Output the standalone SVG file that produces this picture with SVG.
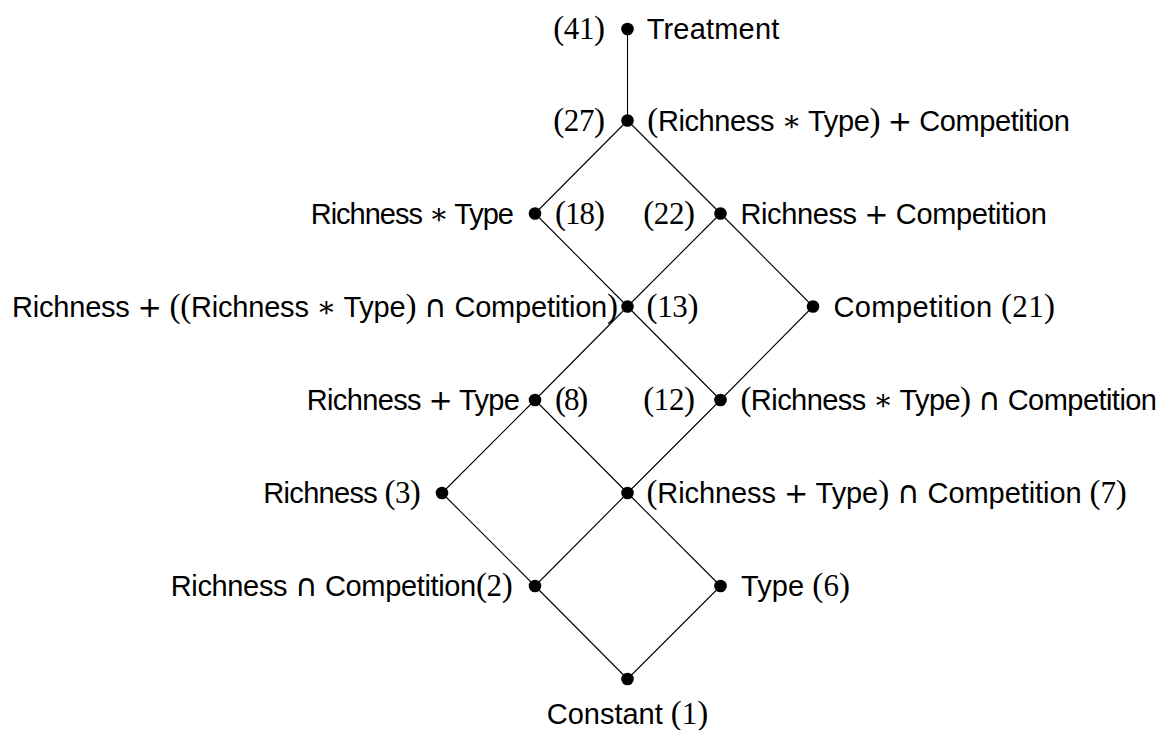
<svg xmlns="http://www.w3.org/2000/svg" width="1165" height="730" viewBox="0 0 1165 730">
<style>
text{font-family:"Liberation Sans",Arial,sans-serif;font-size:29px;fill:#000}
.m{font-family:"Liberation Serif","DejaVu Serif",serif;font-size:31px}
.p{font-family:"Liberation Serif","DejaVu Serif",serif;font-size:33px}
.o{font-family:"DejaVu Sans","Liberation Serif",serif;font-size:29px}
.a{font-family:"DejaVu Serif",serif;font-size:29px}
.c{font-family:"DejaVu Sans","Liberation Serif",serif;font-size:31px}
.dot{fill:#000}
.e{stroke:#000;stroke-width:1.1;fill:none}
</style>
<rect width="1165" height="730" fill="#fff"/>
<g id="connectors">
<line class="e" x1="627.5" y1="28.5" x2="627.5" y2="120.5"/>
<line class="e" x1="627.5" y1="120.5" x2="535" y2="213.5"/>
<line class="e" x1="627.5" y1="120.5" x2="720.5" y2="213.5"/>
<line class="e" x1="535" y1="213.5" x2="627.5" y2="306.5"/>
<line class="e" x1="720.5" y1="213.5" x2="627.5" y2="306.5"/>
<line class="e" x1="720.5" y1="213.5" x2="813" y2="306.5"/>
<line class="e" x1="627.5" y1="306.5" x2="535" y2="400"/>
<line class="e" x1="627.5" y1="306.5" x2="720.5" y2="400"/>
<line class="e" x1="813" y1="306.5" x2="720.5" y2="400"/>
<line class="e" x1="535" y1="400" x2="442" y2="493"/>
<line class="e" x1="535" y1="400" x2="627.5" y2="493"/>
<line class="e" x1="720.5" y1="400" x2="627.5" y2="493"/>
<line class="e" x1="442" y1="493" x2="535" y2="586"/>
<line class="e" x1="627.5" y1="493" x2="535" y2="586"/>
<line class="e" x1="627.5" y1="493" x2="720.5" y2="586"/>
<line class="e" x1="535" y1="586" x2="627.5" y2="679"/>
<line class="e" x1="720.5" y1="586" x2="627.5" y2="679"/>
</g>
<g id="n41">
<circle class="dot" cx="627.5" cy="29" r="6.3"/>
<text x="553.3" y="39" textLength="51.7"><tspan class="p">(</tspan><tspan class="m">41</tspan><tspan class="p">)</tspan></text>
<text x="646.7" y="39" textLength="132.6">Treatment</text>
</g>
<g id="n27">
<circle class="dot" cx="627.5" cy="120.5" r="6.3"/>
<text x="553.3" y="130.5" textLength="51.7"><tspan class="p">(</tspan><tspan class="m">27</tspan><tspan class="p">)</tspan></text>
<text x="647.3" y="130.5" textLength="422.7"><tspan class="p">(</tspan>Richness <tspan class="a">∗</tspan> Type<tspan class="p">)</tspan> <tspan class="o">+</tspan> Competition</text>
</g>
<g id="n18">
<circle class="dot" cx="535" cy="213.5" r="6.3"/>
<text x="310.7" y="223.5" textLength="203.3">Richness <tspan class="a">∗</tspan> Type</text>
<text x="555" y="223.5" textLength="50"><tspan class="p">(</tspan><tspan class="m">18</tspan><tspan class="p">)</tspan></text>
</g>
<g id="n22">
<circle class="dot" cx="720.5" cy="213.5" r="6.3"/>
<text x="643.3" y="223.5" textLength="51.7"><tspan class="p">(</tspan><tspan class="m">22</tspan><tspan class="p">)</tspan></text>
<text x="740.4" y="223.5" textLength="306.4">Richness <tspan class="o">+</tspan> Competition</text>
</g>
<g id="n13">
<circle class="dot" cx="627.5" cy="306.5" r="6.3"/>
<text x="12" y="316.5" textLength="606">Richness <tspan class="o">+</tspan> <tspan class="p">((</tspan>Richness <tspan class="a">∗</tspan> Type<tspan class="p">)</tspan> <tspan class="c">∩</tspan> Competition<tspan class="p">)</tspan></text>
<text x="646.5" y="316.5" textLength="52"><tspan class="p">(</tspan><tspan class="m">13</tspan><tspan class="p">)</tspan></text>
</g>
<g id="n21">
<circle class="dot" cx="813" cy="306.5" r="6.3"/>
<text x="833.5" y="316.5" textLength="221.5">Competition <tspan class="p">(</tspan><tspan class="m">21</tspan><tspan class="p">)</tspan></text>
</g>
<g id="n8">
<circle class="dot" cx="535" cy="400" r="6.3"/>
<text x="306.7" y="410" textLength="213.3">Richness <tspan class="o">+</tspan> Type</text>
<text x="555" y="410" textLength="33.3"><tspan class="p">(</tspan><tspan class="m">8</tspan><tspan class="p">)</tspan></text>
</g>
<g id="n12">
<circle class="dot" cx="720.5" cy="400" r="6.3"/>
<text x="643.3" y="410" textLength="51.7"><tspan class="p">(</tspan><tspan class="m">12</tspan><tspan class="p">)</tspan></text>
<text x="740.4" y="410" textLength="416.6"><tspan class="p">(</tspan>Richness <tspan class="a">∗</tspan> Type<tspan class="p">)</tspan> <tspan class="c">∩</tspan> Competition</text>
</g>
<g id="n3">
<circle class="dot" cx="442" cy="493" r="6.3"/>
<text x="263.3" y="503" textLength="157.4">Richness <tspan class="p">(</tspan><tspan class="m">3</tspan><tspan class="p">)</tspan></text>
</g>
<g id="n7">
<circle class="dot" cx="627.5" cy="493" r="6.3"/>
<text x="646.4" y="503" textLength="480.4"><tspan class="p">(</tspan>Richness <tspan class="o">+</tspan> Type<tspan class="p">)</tspan> <tspan class="c">∩</tspan> Competition <tspan class="p">(</tspan><tspan class="m">7</tspan><tspan class="p">)</tspan></text>
</g>
<g id="n2">
<circle class="dot" cx="535" cy="586" r="6.3"/>
<text x="170.7" y="596" textLength="342">Richness <tspan class="c">∩</tspan> Competition<tspan class="p">(</tspan><tspan class="m">2</tspan><tspan class="p">)</tspan></text>
</g>
<g id="n6">
<circle class="dot" cx="720.5" cy="586" r="6.3"/>
<text x="741" y="596" textLength="109">Type <tspan class="p">(</tspan><tspan class="m">6</tspan><tspan class="p">)</tspan></text>
</g>
<g id="n1">
<circle class="dot" cx="627.5" cy="679" r="6.3"/>
<text x="546.7" y="724" textLength="161.6">Constant <tspan class="p">(</tspan><tspan class="m">1</tspan><tspan class="p">)</tspan></text>
</g>
</svg>
